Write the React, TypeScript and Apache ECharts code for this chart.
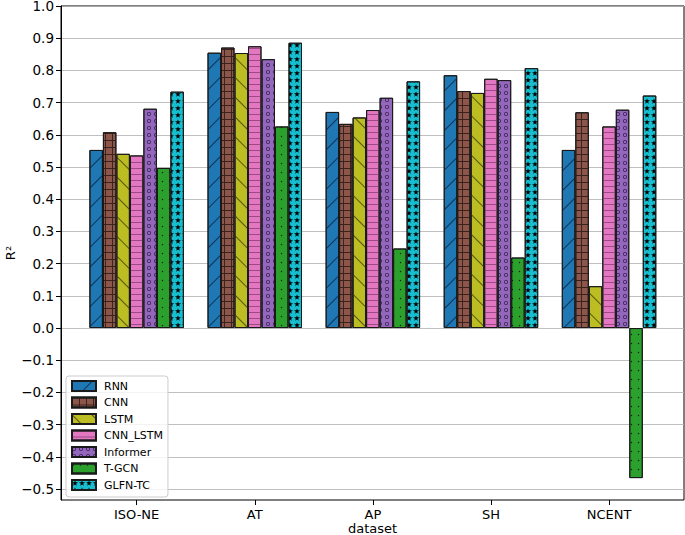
import React, { useEffect, useRef } from 'react';
import * as echarts from 'echarts';

const categories = ['ISO-NE', 'AT', 'AP', 'SH', 'NCENT'];
const models = ['RNN', 'CNN', 'LSTM', 'CNN_LSTM', 'Informer', 'T-GCN', 'GLFN-TC'];
const rnn = [0.553, 0.855, 0.671, 0.785, 0.553];
const cnn = [0.608, 0.871, 0.634, 0.736, 0.670];
const lstm = [0.541, 0.854, 0.654, 0.730, 0.130];
const cnnLstm = [0.536, 0.875, 0.677, 0.774, 0.626];
const informer = [0.681, 0.835, 0.715, 0.770, 0.678];
const tgcn = [0.497, 0.626, 0.247, 0.219, -0.466];
const glfn = [0.734, 0.886, 0.766, 0.807, 0.722];
const seriesValues = [rnn, cnn, lstm, cnnLstm, informer, tgcn, glfn];
const yTicks = [-0.5, -0.4, -0.3, -0.2, -0.1, 0, 0.1, 0.2, 0.3, 0.4, 0.5, 0.6, 0.7, 0.8, 0.9, 1.0];

const colors = ['#1f77b4', '#8c564b', '#bcbd22', '#e377c2', '#9467bd', '#2ca02c', '#17becf'];

const ring = 'path://M0,-10A10,10 0 1,1 0,10A10,10 0 1,1 0,-10ZM0,-6A6,6 0 1,0 0,6A6,6 0 1,0 0,-6Z';
const star = 'path://M50,0L61.2,34.5L97.6,34.5L68.2,55.9L79.4,90.5L50,69.1L20.6,90.5L31.8,55.9L2.4,34.5L38.8,34.5Z';
const ell = 'path://M0,0H10V1.4H1.4V10H0Z';

const decals: any[] = [
  { symbol: 'rect', symbolSize: 1, color: '#0d3356', dashArrayX: [1, 0], dashArrayY: [1, 13], rotation: -Math.PI / 4 },
  { symbol: ell, symbolSize: 1, symbolKeepAspect: false, color: '#3a211c', dashArrayX: [7, 0], dashArrayY: [7, 0] },
  { symbol: 'rect', symbolSize: 1, color: '#55550c', dashArrayX: [1, 0], dashArrayY: [1, 13], rotation: Math.PI / 4 },
  { symbol: 'rect', symbolSize: 1, color: '#9b4a85', dashArrayX: [1, 0], dashArrayY: [1, 5] },
  { symbol: ring, symbolSize: 1, symbolKeepAspect: true, color: '#33204d', dashArrayX: [4, 3], dashArrayY: [4, 3] },
  { symbol: 'circle', symbolSize: 0.45, color: '#061a06', dashArrayX: [3, 4], dashArrayY: [3, 6] },
  { symbol: star, symbolSize: 1, symbolKeepAspect: true, color: '#000000', dashArrayX: [6, 1], dashArrayY: [6, 1] },
];

const fmtY = (v: number) => {
  const r = Math.round(v * 10) / 10;
  if (Math.abs(r) < 1e-9) return '0.0';
  return (r < 0 ? '\u2212' : '') + Math.abs(r).toFixed(1);
};

// plot frame and data band geometry
const frameLeft = 61;
const frameRight = 1;
const bandLeft = 77.6;
const bandRight = 16.9;
const yMin = -0.534;
const yMax = 1.0;

export default function App() {
  const ref = useRef<HTMLDivElement>(null);
  useEffect(() => {
    if (!ref.current) return;
    const chart = echarts.init(ref.current, undefined, { renderer: 'svg' });
    const font = 'DejaVu Sans';
    const option: any = {
      animation: false,
      textStyle: { fontFamily: font },
      grid: [
        { left: frameLeft, right: frameRight, top: 6, bottom: 35, show: true, borderColor: '#000', borderWidth: 1, backgroundColor: 'transparent', outerBoundsMode: 'none', containLabel: false },
        { left: bandLeft, right: bandRight, top: 6, bottom: 35, outerBoundsMode: 'none', containLabel: false },
      ],
      legend: {
        orient: 'vertical',
        left: 66,
        top: 376,
        data: models,
        icon: 'rect',
        itemWidth: 24,
        itemHeight: 10,
        itemGap: 4.5,
        padding: [4, 5, 6, 5],
        borderColor: '#cccccc',
        borderWidth: 1,
        borderRadius: 3,
        backgroundColor: 'rgba(255,255,255,0.8)',
        textStyle: { fontFamily: font, fontSize: 11, color: '#000', padding: [0, 0, 0, 3] },
      },
      xAxis: [
        {
          gridIndex: 0,
          type: 'value',
          min: 0,
          max: 1,
          name: 'dataset',
          nameLocation: 'middle',
          nameGap: 22,
          nameMoveOverlap: false,
          nameTextStyle: { fontFamily: font, fontSize: 13, color: '#000' },
          axisLine: { show: false },
          axisTick: { show: false },
          axisLabel: { show: false },
          splitLine: { show: false },
        },
        {
          gridIndex: 1,
          type: 'category',
          data: categories,
          boundaryGap: true,
          axisLine: { show: false, onZero: false },
          axisTick: { show: true, alignWithLabel: true, length: 5, lineStyle: { color: '#000' } },
          axisLabel: { fontFamily: font, fontSize: 13, color: '#000', margin: 8 },
          splitLine: { show: false },
        },
      ],
      yAxis: [
        {
          gridIndex: 0,
          type: 'value',
          min: yMin,
          max: yMax,
          name: 'R\u00B2',
          nameLocation: 'middle',
          nameGap: 44,
          nameMoveOverlap: false,
          nameTextStyle: { fontFamily: font, fontSize: 13, color: '#000' },
          axisLine: { show: true, onZero: false, lineStyle: { color: '#000' } },
          axisTick: { show: true, customValues: yTicks, length: 5, lineStyle: { color: '#000' } },
          axisLabel: { customValues: yTicks, formatter: fmtY, fontFamily: font, fontSize: 13.5, lineHeight: 12, color: '#000', margin: 7 },
          splitLine: { show: true, lineStyle: { color: '#b0b0b0', width: 0.8 } },
        },
        {
          gridIndex: 1,
          type: 'value',
          min: yMin,
          max: yMax,
          show: false,
          splitLine: { show: false },
        },
      ],
      series: models.map((name, k) => ({
        name,
        type: 'bar',
        xAxisIndex: 1,
        yAxisIndex: 1,
        data: seriesValues[k],
        barGap: '0%',
        barCategoryGap: '20%',
        itemStyle: { color: colors[k], borderColor: '#1a1a1a', borderWidth: 1, decal: decals[k] },
        emphasis: { disabled: true },
      })),
    };
    chart.setOption(option);
    return () => chart.dispose();
  }, []);
  return <div ref={ref} style={{ position: 'absolute', left: 0, top: 0, width: 685, height: 535 }} />;
}
